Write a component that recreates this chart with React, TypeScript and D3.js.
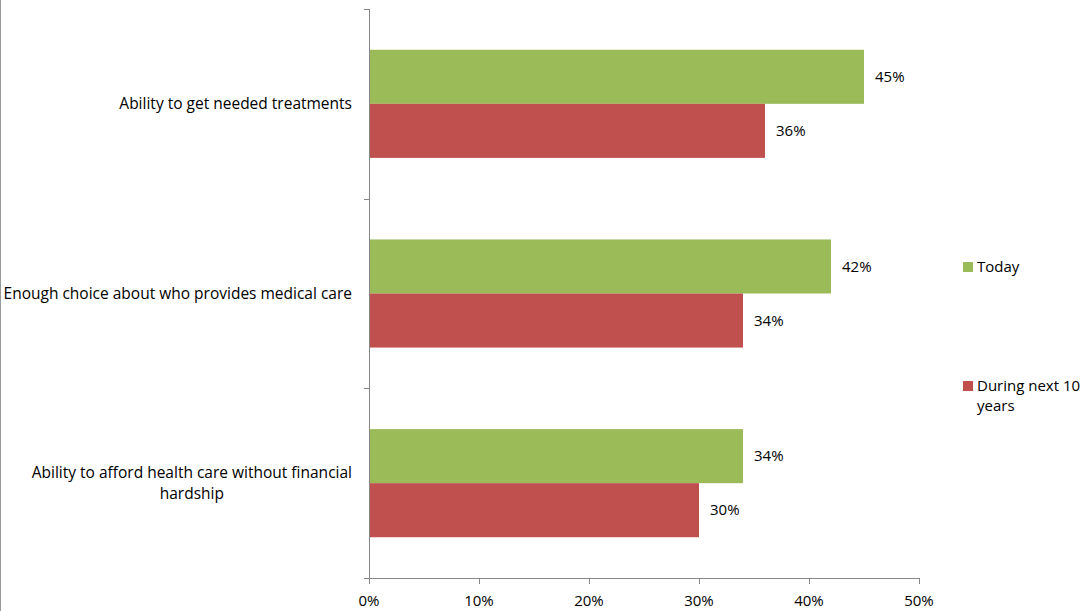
import React, { useEffect, useRef } from "react";
import * as d3 from "d3";

const categories: string[][] = [
  ["Ability to get needed treatments"],
  ["Enough choice about who provides medical care"],
  ["Ability to afford health care without financial", "hardship"],
];
const seriesNames = ["Today", "During next 10 years"];
const legendLines = [["Today"], ["During next 10", "years"]];
const todayValues = [45, 42, 34];
const nextTenValues = [36, 34, 30];
const xTicks = [0, 10, 20, 30, 40, 50];
const colors = ["#9BBB59", "#C0504D"];

const W = 1086;
const H = 611;
const FONT = "'Open Sans', Lato, sans-serif";
const FS = 15;
const FS_CAT = 15.5;

export default function App() {
  const ref = useRef<SVGSVGElement>(null);

  useEffect(() => {
    const svg = d3.select(ref.current!);
    svg.selectAll("*").remove();

    const x = d3.scaleLinear().domain([0, 50]).range([369, 919]);
    const y0 = d3
      .scaleBand<number>()
      .domain(d3.range(categories.length))
      .range([9, 578])
      .paddingInner(0.43)
      .paddingOuter(0.215);
    const y1 = d3
      .scaleBand<number>()
      .domain([0, 1])
      .range([0, y0.bandwidth()]);

    const axisColor = "#868686";

    svg
      .append("line")
      .attr("x1", 0.5)
      .attr("x2", 0.5)
      .attr("y1", 0)
      .attr("y2", H)
      .attr("stroke", "#999")
      .attr("stroke-width", 1);

    const values = [todayValues, nextTenValues];

    categories.forEach((_, ci) => {
      [0, 1].forEach((si) => {
        const v = values[si][ci];
        const yy = (y0(ci) as number) + (y1(si) as number);
        svg
          .append("rect")
          .attr("x", x(0))
          .attr("y", yy)
          .attr("width", x(v) - x(0))
          .attr("height", y1.bandwidth())
          .attr("fill", colors[si]);
        svg
          .append("text")
          .attr("x", x(v) + 11)
          .attr("y", yy + y1.bandwidth() / 2)
          .attr("dy", "0.35em")
          .attr("font-family", FONT)
          .attr("font-size", FS)
          .attr("fill", "#000")
          .text(`${v}%`);
      });
    });

    svg
      .append("line")
      .attr("x1", 369.5)
      .attr("x2", 369.5)
      .attr("y1", 9)
      .attr("y2", 578)
      .attr("stroke", axisColor);
    const step = y0.step();
    d3.range(categories.length).forEach((i) => {
      const yy = Math.round(9 + i * step) + 0.5;
      svg
        .append("line")
        .attr("x1", 364)
        .attr("x2", 369)
        .attr("y1", yy)
        .attr("y2", yy)
        .attr("stroke", axisColor);
    });

    svg
      .append("line")
      .attr("x1", 364)
      .attr("x2", 919)
      .attr("y1", 578.5)
      .attr("y2", 578.5)
      .attr("stroke", axisColor);
    xTicks.forEach((t) => {
      const xx = Math.round(x(t)) + 0.5;
      svg
        .append("line")
        .attr("x1", xx)
        .attr("x2", xx)
        .attr("y1", 578)
        .attr("y2", 584)
        .attr("stroke", axisColor);
      svg
        .append("text")
        .attr("x", x(t))
        .attr("y", 601)
        .attr("dy", "0.35em")
        .attr("text-anchor", "middle")
        .attr("font-family", FONT)
        .attr("font-size", FS)
        .text(`${t}%`);
    });

    categories.forEach((lines, ci) => {
      const cy = (y0(ci) as number) + y0.bandwidth() / 2;
      const g = svg.append("g");
      const texts = lines.map((ln, li) =>
        g
          .append("text")
          .attr("y", cy + (li - (lines.length - 1) / 2) * 21)
          .attr("dy", "0.35em")
          .attr("text-anchor", "middle")
          .attr("font-family", FONT)
          .attr("font-size", FS_CAT)
          .attr("fill", "#000")
          .text(ln)
      );
      const maxW = d3.max(texts, (t) => (t.node() as SVGTextElement).getComputedTextLength()) || 0;
      texts.forEach((t) => t.attr("x", 352 - maxW / 2));
    });

    const legendY = [267, 386];
    seriesNames.forEach((_, si) => {
      svg
        .append("rect")
        .attr("x", 963)
        .attr("y", legendY[si] - 5)
        .attr("width", 10)
        .attr("height", 10)
        .attr("fill", colors[si]);
      legendLines[si].forEach((ln, li) => {
        svg
          .append("text")
          .attr("x", 977)
          .attr("y", legendY[si] + li * 20)
          .attr("dy", "0.35em")
          .attr("font-family", FONT)
          .attr("font-size", FS)
          .text(ln);
      });
    });
  }, []);

  return (
    <svg
      ref={ref}
      width={W}
      height={H}
      style={{ position: "absolute", left: 0, top: 0, background: "#fff" }}
    />
  );
}
